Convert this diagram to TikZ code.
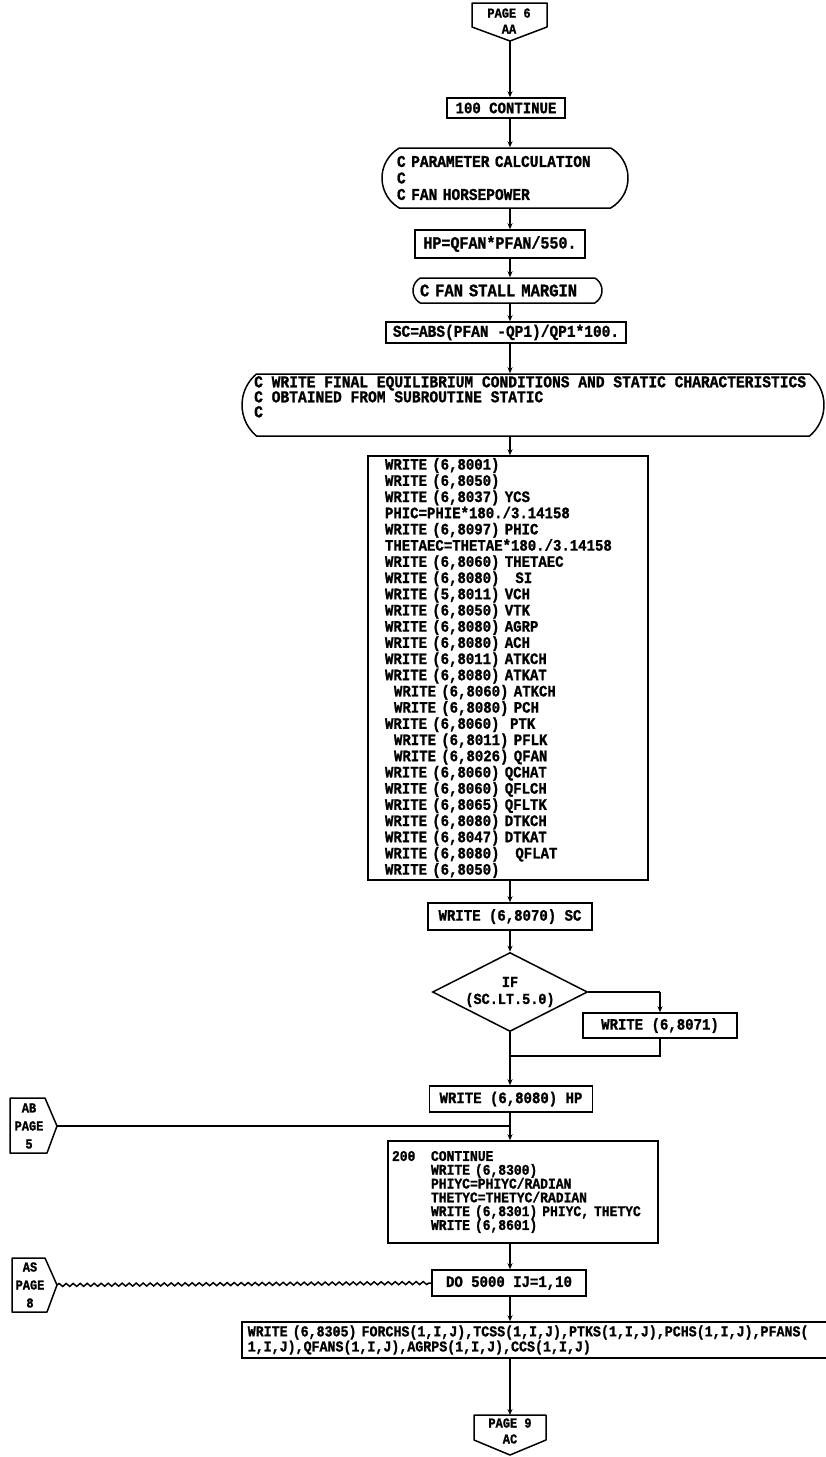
\documentclass[tikz,border=0pt]{standalone}
\usepackage{fontspec}
\newfontfamily\fmono{Liberation Mono}[FakeStretch=0.88,BoldFeatures={FakeBold=1.2}]
\newcommand\myfs[2]{\fmono\bfseries\fontsize{\dimexpr #1pt*100/88\relax}{#2}\selectfont}
\usetikzlibrary{shapes.misc,shapes.geometric,arrows.meta,decorations.pathmorphing}
\begin{document}
\begin{tikzpicture}[x=1pt,y=-1pt,
  ln/.style={line width=1.5pt},
  box/.style={draw, ln, inner sep=0pt, align=center, font=\myfs{14}{16}},
  term/.style={draw, ln, rounded rectangle, rounded rectangle arc length=120, inner sep=0pt, align=left},
  flow/.style={ln, -{Stealth[length=6pt,width=5pt]}},
  conn/.style={draw, ln, line join=round},
  clab/.style={inner sep=0pt, align=center, font=\myfs{12}{16}},
  snk/.style={ln, decorate, decoration={snake, segment length=7pt, amplitude=1.5pt}}]

\useasboundingbox (0,0) rectangle (826,1457);
\coordinate (m) at (510,0);

% top off-page connector
\draw[conn] (472,3) -- (547,3) -- (547,27) -- (510,41) -- (472,27) -- cycle;
\coordinate (pA) at (510,41);
\node[clab] (pAt) at (509,21) {PAGE 6\\AA};

\node[box, minimum width=118pt, minimum height=20pt] (c100) at (506,108) {100 CONTINUE};

\node[term, minimum width=246pt, minimum height=60pt, text width=216pt, font=\myfs{14.5}{16.5}] (param) at (505,178)
  {C PARAMETER CALCULATION\\C\\C FAN HORSEPOWER};

\node[box, minimum width=170pt, minimum height=28pt, font=\myfs{15}{16}] (hp) at (500,244) {HP=QFAN*PFAN/550.};

\node[term, minimum width=189pt, minimum height=25pt, text width=175pt, font=\myfs{15.5}{16}] (fsm) at (507.5,290.5)
  {C FAN STALL MARGIN};

\node[box, minimum width=240pt, minimum height=21pt, font=\myfs{14.5}{16}] (sc) at (506,332.5) {SC=ABS(PFAN -QP1)/QP1*100.};

\node[term, rounded rectangle arc length=100, minimum width=582pt, minimum height=62pt] (wf) at (533,405) {};
\node[anchor=north west, inner sep=0pt, align=left, font=\myfs{14.6}{15}] (wft) at (254,376)
  {C WRITE FINAL EQUILIBRIUM CONDITIONS AND STATIC CHARACTERISTICS\\C OBTAINED FROM SUBROUTINE STATIC\\C};

\node[box, minimum width=280pt, minimum height=424pt, text width=246pt, align=left, font=\myfs{14}{16.2}] (big) at (508,668)
  {WRITE (6,8001)\\
   WRITE (6,8050)\\
   WRITE (6,8037) YCS\\
   PHIC=PHIE*180./3.14158\\
   WRITE (6,8097) PHIC\\
   THETAEC=THETAE*180./3.14158\\
   WRITE (6,8060) THETAEC\\
   WRITE (6,8080)\ \ \ SI\\
   WRITE (5,8011) VCH\\
   WRITE (6,8050) VTK\\
   WRITE (6,8080) AGRP\\
   WRITE (6,8080) ACH\\
   WRITE (6,8011) ATKCH\\
   WRITE (6,8080) ATKAT\\
   \hspace*{9pt}WRITE (6,8060) ATKCH\\
   \hspace*{9pt}WRITE (6,8080) PCH\\
   WRITE (6,8060)\ \ PTK\\
   \hspace*{9pt}WRITE (6,8011) PFLK\\
   \hspace*{9pt}WRITE (6,8026) QFAN\\
   WRITE (6,8060) QCHAT\\
   WRITE (6,8060) QFLCH\\
   WRITE (6,8065) QFLTK\\
   WRITE (6,8080) DTKCH\\
   WRITE (6,8047) DTKAT\\
   WRITE (6,8080)\ \ \ QFLAT\\
   WRITE (6,8050)};

\node[box, minimum width=164pt, minimum height=27pt] (w8070) at (510,916.5) {WRITE (6,8070) SC};

\node[draw, ln, diamond, shape aspect=2, minimum width=155pt, minimum height=79pt, inner sep=0pt, align=center, font=\myfs{13.5}{17}] (dia) at (510,992)
  {IF\\(SC.LT.5.0)};

\node[box, minimum width=154pt, minimum height=25pt] (w8071) at (660,1025.5) {WRITE (6,8071)};
\coordinate (rb) at (660,992);
\coordinate (mg) at (660,1056);

\node[box, minimum width=163pt, minimum height=26pt] (w8080) at (511,1099) {WRITE (6,8080) HP};

% AB connector
\draw[conn] (10,1098) -- (45,1098) -- (57,1126) -- (47,1153) -- (10,1153) -- cycle;
\coordinate (pB) at (57,1126);
\node[clab, font=\myfs{12}{18}] (pBt) at (29,1126) {AB\\PAGE\\5};

\node[box, minimum width=270pt, minimum height=102pt, text width=262pt, align=left, font=\myfs{13}{13.8}] (c200) at (523,1192)
  {\makebox[39pt][l]{200}CONTINUE\\
   \hspace*{39pt}WRITE (6,8300)\\
   \hspace*{39pt}PHIYC=PHIYC/RADIAN\\
   \hspace*{39pt}THETYC=THETYC/RADIAN\\
   \hspace*{39pt}WRITE (6,8301) PHIYC, THETYC\\
   \hspace*{39pt}WRITE (6,8601)};

% AS connector
\draw[conn] (12,1258) -- (45,1258) -- (57,1285) -- (47,1312) -- (12,1312) -- cycle;
\coordinate (pS) at (57,1285);
\node[clab, font=\myfs{12}{18}] (pSt) at (30,1285) {AS\\PAGE\\8};

\node[box, minimum width=154pt, minimum height=26pt] (do) at (509,1283) {DO 5000 IJ=1,10};

\node[box, anchor=west, minimum height=36pt, text width=592pt, inner xsep=6pt, align=left, font=\myfs{13.3}{13.5}] (wb) at (241,1340)
  {WRITE (6,8305) FORCHS(1,I,J),TCSS(1,I,J),PTKS(1,I,J),PCHS(1,I,J),PFANS(\\
   1,I,J),QFANS(1,I,J),AGRPS(1,I,J),CCS(1,I,J)};

% bottom off-page connector
\draw[conn] (474,1415) -- (546,1415) -- (546,1440) -- (510,1455) -- (474,1440) -- cycle;
\coordinate (pC) at (510,1415);
\node[clab] (pCt) at (510,1431) {PAGE 9\\AC};

% connectors
\draw[flow] (pA) -- (c100.north -| pA);
\draw[flow] (c100.south -| m) -- (param.north -| m);
\draw[flow] (param.south -| m) -- (hp.north -| m);
\draw[flow] (hp.south -| m) -- (fsm.north -| m);
\draw[flow] (fsm.south -| m) -- (sc.north -| m);
\draw[flow] (sc.south -| m) -- (wf.north -| m);
\draw[flow] (wf.south -| m) -- (big.north -| m);
\draw[flow] (big.south -| m) -- (w8070.north -| m);
\draw[flow] (w8070.south -| m) -- (dia.north);
\draw[ln] (dia.east) -- (rb);
\draw[flow] (rb) -- (w8071.north);
\draw[ln] (w8071.south) -- (mg) -- (mg -| m);
\draw[flow] (dia.south) -- (w8080.north -| m);
\draw[ln] (pB) -- (pB -| m);
\draw[flow] (w8080.south -| m) -- (c200.north -| m);
\draw[flow] (c200.south -| m) -- (do.north -| m);
\draw[snk] (pS) -- (do.west);
\draw[flow] (do.south -| m) -- (wb.north -| m);
\draw[flow] (wb.south -| m) -- (pC);
\end{tikzpicture}
\end{document}
